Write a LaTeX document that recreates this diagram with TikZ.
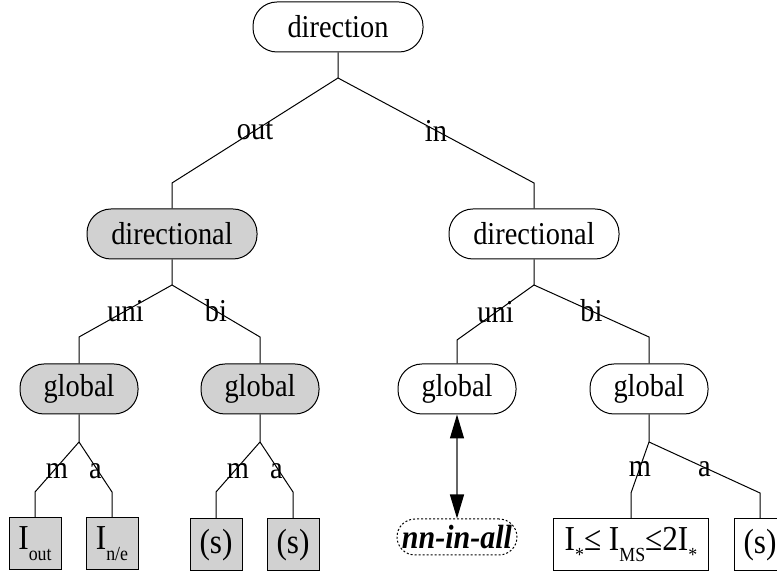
\documentclass[tikz,border=0pt]{standalone}
\usepackage{fontspec}
\setmainfont[FakeStretch=0.893]{Liberation Serif}
\usetikzlibrary{arrows.meta}

\definecolor{cd1d1d1}{RGB}{209,209,209}
\newcommand{\dropsub}[1]{\raisebox{-5.5pt}{\fontsize{10}{10}\selectfont #1}}

\tikzset{
  pill/.style={draw=black,line width=0.5pt,rounded corners=12pt,inner sep=0pt,
    minimum height=25pt},
  pillgray/.style={pill,fill=cd1d1d1},
  leafbox/.style={draw=black,line width=0.5pt,inner sep=0pt,minimum height=26pt,
    font=\fontsize{17.5}{19}\selectfont},
  leafgray/.style={leafbox,fill=cd1d1d1,minimum width=26pt},
  dashpill/.style={draw=black,line width=0.5pt,rounded corners=9pt,inner sep=0pt,
    minimum width=60pt,minimum height=18pt,dash pattern=on 1pt off 1pt,
    font=\fontsize{16.8}{18}\selectfont\bfseries\itshape},
  edge/.style={draw=black,line width=0.5pt},
  lbl/.style={inner sep=0pt,midway},
  dbl/.style={draw=black!60,line width=0.7pt,
    {Triangle[length=12pt,width=7pt,color=black]}-{Triangle[length=12pt,width=7pt,color=black]}}
}

\begin{document}
\begin{tikzpicture}[x=0.5pt,y=-0.5pt,font=\fontsize{15.9}{18}\selectfont]
\useasboundingbox (0,0) rectangle (777,576);

% tree nodes
\node[pill,minimum width=85pt] (dirn) at (338,27) {direction};
\node[pillgray,minimum width=85pt] (dirl) at (172,234) {directional};
\node[pill,minimum width=85pt] (dirr) at (534,234) {directional};
\node[pillgray,minimum width=59pt] (glob1) at (79,389) {global};
\node[pillgray,minimum width=59pt] (glob2) at (260,389) {global};
\node[pill,minimum width=59pt] (glob3) at (457,389) {global};
\node[pill,minimum width=59pt] (glob4) at (649,389) {global};

% leaves
\node[leafgray] (iout) at (35,544) {I\dropsub{out}};
\node[leafgray] (ine) at (112,544) {I\dropsub{n/e}};
\node[leafgray] (sa) at (216,545) {(s)};
\node[leafgray] (sb) at (293,545) {(s)};
\node[dashpill] (nnall) at (457,537) {nn-in-all};
\node[leafbox,minimum width=77.5pt] (ims) at (631,545)
  {I\dropsub{*}≤ I\dropsub{MS}≤2I\dropsub{*}};
\node[leafbox,minimum width=26pt] (sc) at (760,545) {(s)};

% junctions
\coordinate (j0) at (338,78);
\coordinate (k1) at (172,183);
\coordinate (k2) at (534,183);
\coordinate (jl) at (172,285);
\coordinate (kl1) at (79,337);
\coordinate (kl2) at (260,337);
\coordinate (jr) at (534,285);
\coordinate (kr1) at (457,340);
\coordinate (kr2) at (649,337);
\coordinate (jg1) at (79,442);
\coordinate (m1) at (35,492);
\coordinate (a1) at (112,492);
\coordinate (jg2) at (260,442);
\coordinate (m2) at (216,492);
\coordinate (a2) at (293,492);
\coordinate (jg4) at (649,442);
\coordinate (m4) at (631,493);
\coordinate (a4) at (760,493);

% connectors
\draw[edge] (dirn.south) -- (j0) -- node[lbl] {out} (k1) -- (dirl.north);
\draw[edge] (j0) -- node[lbl] {in} (k2) -- (dirr.north);

\draw[edge] (dirl.south) -- (jl) -- node[lbl] {uni} (kl1) -- (glob1.north);
\draw[edge] (jl) -- node[lbl] {bi} (kl2) -- (glob2.north);
\draw[edge] (dirr.south) -- (jr) -- node[lbl] {uni} (kr1) -- (glob3.north);
\draw[edge] (jr) -- node[lbl] {bi} (kr2) -- (glob4.north);

\draw[edge] (glob1.south) -- (jg1) -- node[lbl,yshift=-2pt] {m} (m1) -- (iout.north);
\draw[edge] (jg1) -- node[lbl,yshift=-2pt] {a} (a1) -- (ine.north);
\draw[edge] (glob2.south) -- (jg2) -- node[lbl,yshift=-2pt] {m} (m2) -- (sa.north);
\draw[edge] (jg2) -- node[lbl,yshift=-2pt] {a} (a2) -- (sb.north);
\draw[edge] (glob4.south) -- (jg4) -- node[lbl,yshift=-1pt] {m} (m4) -- (ims.north);
\draw[edge] (jg4) -- node[lbl,yshift=-1pt] {a} (a4) -- (sc.north);

\draw[dbl] (glob3.south) -- (nnall.north);

\end{tikzpicture}
\end{document}
